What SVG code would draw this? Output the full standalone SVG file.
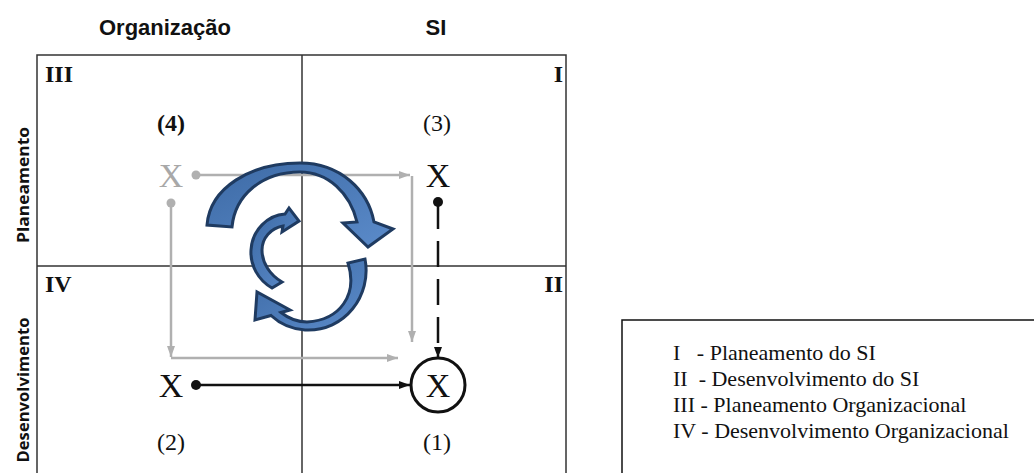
<svg xmlns="http://www.w3.org/2000/svg" width="1034" height="473" viewBox="0 0 1034 473">
<defs>
<style>
.hdr{font-family:"Liberation Sans",Arial,sans-serif;font-weight:bold;font-size:22px;fill:#111;text-anchor:middle}
.side{font-family:"Open Sans","Liberation Sans",sans-serif;font-weight:bold;font-size:16px;fill:#111;text-anchor:middle}
.rom{font-family:"Liberation Serif","Times New Roman",serif;font-weight:bold;font-size:24px;fill:#111}
.num{font-family:"Liberation Serif","Times New Roman",serif;font-size:24px;fill:#111;text-anchor:middle}
.x{font-family:"Liberation Serif","Times New Roman",serif;font-size:34px;fill:#111;text-anchor:middle}
.xg{fill:#a8a8a8}
.leg{font-family:"Liberation Serif","Times New Roman",serif;font-size:22px;fill:#111;white-space:pre}
.grid{fill:none;stroke:#333;stroke-width:1.5}
.gl{fill:none;stroke:#b0b0b0;stroke-width:2.5}
.bl{fill:none;stroke:#111;stroke-width:2.5}
.blue{fill:url(#bg);stroke:#1f3b61;stroke-width:3;stroke-linejoin:miter}
</style>
<linearGradient id="bg" x1="0" y1="0" x2="1" y2="1">
<stop offset="0" stop-color="#3d6aa5"/>
<stop offset="1" stop-color="#5b8bca"/>
</linearGradient>
<marker id="ag" markerUnits="userSpaceOnUse" markerWidth="12" markerHeight="10" refX="11" refY="5" orient="auto">
<path d="M0,1 L11,5 L0,9 z" fill="#b0b0b0"/>
</marker>
<marker id="ab" markerUnits="userSpaceOnUse" markerWidth="12" markerHeight="10" refX="11" refY="5" orient="auto">
<path d="M0,1 L11,5 L0,9 z" fill="#111"/>
</marker>
</defs>
<rect width="1034" height="473" fill="#fff"/>

<g id="headers">
<text class="hdr" x="165" y="35">Organização</text>
<text class="hdr" x="436" y="35">SI</text>
<text class="side" transform="translate(29,185) rotate(-90)" textLength="116" lengthAdjust="spacingAndGlyphs">Planeamento</text>
<text class="side" transform="translate(29,390) rotate(-90)" textLength="145" lengthAdjust="spacingAndGlyphs">Desenvolvimento</text>
</g>

<g id="grid">
<rect class="grid" x="37" y="55" width="529" height="430"/>
<line class="grid" x1="302" y1="55" x2="302" y2="473"/>
<line class="grid" x1="37" y1="266" x2="566" y2="266"/>
</g>

<g id="quadrant-labels">
<text class="rom" x="45" y="82">III</text>
<text class="rom" x="563" y="82" text-anchor="end">I</text>
<text class="rom" x="45" y="292">IV</text>
<text class="rom" x="563" y="292" text-anchor="end">II</text>
</g>

<g id="connectors">
<line class="gl" x1="196" y1="175" x2="410" y2="175" marker-end="url(#ag)"/>
<line class="gl" x1="412" y1="176" x2="412" y2="342" marker-end="url(#ag)"/>
<line class="gl" x1="171" y1="203" x2="171" y2="357" marker-end="url(#ag)"/>
<line class="gl" x1="171" y1="358" x2="398" y2="358" marker-end="url(#ag)"/>
<circle cx="196" cy="175" r="4.5" fill="#b0b0b0"/>
<circle cx="171" cy="203" r="4.5" fill="#b0b0b0"/>
<line class="bl" x1="196" y1="385" x2="410" y2="385" marker-end="url(#ab)"/>
<circle cx="196" cy="385" r="5" fill="#111"/>
<line class="bl" x1="438" y1="203" x2="438" y2="358" stroke-dasharray="26,12" marker-end="url(#ab)"/>
<circle cx="438" cy="202" r="5" fill="#111"/>
</g>

<g id="node-4">
<text class="num" x="171" y="131" font-weight="bold">(4)</text>
<text class="x xg" x="171" y="187">X</text>
</g>
<g id="node-3">
<text class="num" x="437" y="131">(3)</text>
<text class="x" x="438" y="187">X</text>
</g>
<g id="node-2">
<text class="x" x="171" y="397">X</text>
<text class="num" x="171" y="450">(2)</text>
</g>
<g id="node-1">
<circle cx="438" cy="385" r="27" fill="none" stroke="#111" stroke-width="3"/>
<text class="x" x="438" y="397">X</text>
<text class="num" x="437" y="450">(1)</text>
</g>

<g id="cycle-arrows">
<path class="blue" d="M207,225 C210,188 250,163 300,163 C340,163 368,190 374,222 L393,229 L368,247 L343,223 L357,222 C350,193 328,172 300,172 C262,172 235,195 232,227 Z"/>
<path class="blue" d="M365,259 C372,295 345,332 305,330 C290,329 278,322 271,315.5 L255,320 L257,292 L290,310 L281,312.5 C288,318 298,322 307,322 C340,320 358,295 348,263 Z"/>
<path class="blue" d="M272,288 C258,280 250,265 251,250 C252,230 268,215 285,214 L289,208 L299,221 L282,232 L283,226 C271,228 262,238 262,250 C262,263 270,275 282,282 Z"/>
</g>

<g id="legend">
<rect x="622" y="320" width="430" height="170" fill="none" stroke="#111" stroke-width="1.5"/>
<text class="leg" x="673" y="360">I   - Planeamento do SI</text>
<text class="leg" x="673" y="386">II  - Desenvolvimento do SI</text>
<text class="leg" x="673" y="412">III - Planeamento Organizacional</text>
<text class="leg" x="673" y="438">IV - Desenvolvimento Organizacional</text>
</g>
</svg>
